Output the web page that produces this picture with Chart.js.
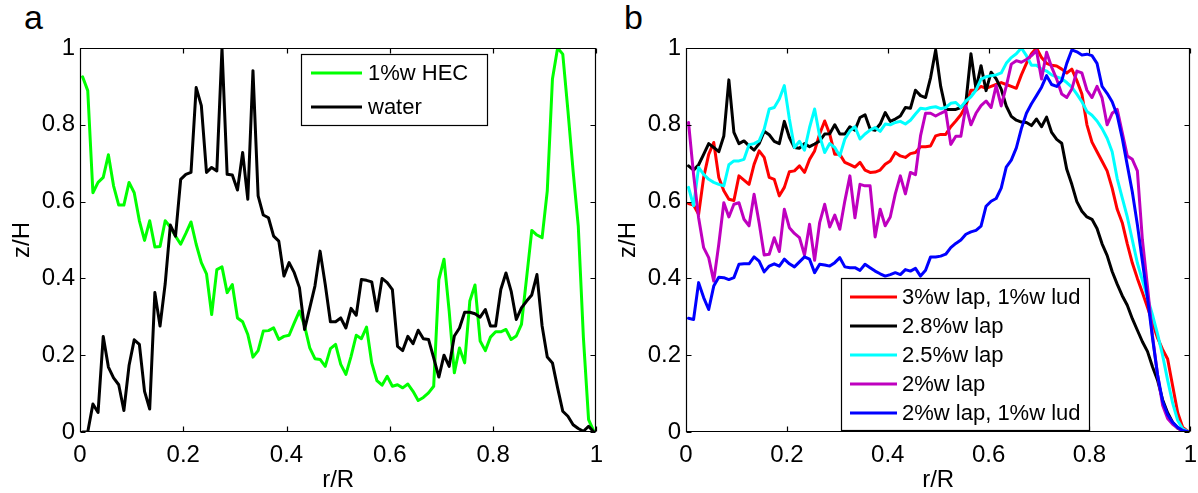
<!DOCTYPE html>
<html><head><meta charset="utf-8">
<script src="https://cdn.jsdelivr.net/npm/chart.js@4.4.1/dist/chart.umd.min.js"></script>
<style>
html,body{margin:0;padding:0;background:#fff;}
body{width:1198px;height:493px;position:relative;overflow:hidden;font-family:"Liberation Sans",Arial,sans-serif;}
canvas{position:absolute;top:0;}
#ca{left:0;}
#cb{left:606px;}
.lab{position:absolute;font-size:34px;line-height:34px;color:#000;}
</style></head>
<body>
<div class="lab" style="left:24px;top:0px;">a</div>
<div class="lab" style="left:624px;top:0px;">b</div>
<canvas id="ca" width="612" height="493"></canvas>
<canvas id="cb" width="600" height="493"></canvas>
<script>
// ---- data ----
const rR = [0.005,0.015,0.025,0.035,0.045,0.055,0.065,0.075,0.085,0.095,
0.105,0.115,0.125,0.135,0.145,0.155,0.165,0.175,0.185,0.195,
0.205,0.215,0.225,0.235,0.245,0.255,0.265,0.275,0.285,0.295,
0.305,0.315,0.325,0.335,0.345,0.355,0.365,0.375,0.385,0.395,
0.405,0.415,0.425,0.435,0.445,0.455,0.465,0.475,0.485,0.495,
0.505,0.515,0.525,0.535,0.545,0.555,0.565,0.575,0.585,0.595,
0.605,0.615,0.625,0.635,0.645,0.655,0.665,0.675,0.685,0.695,
0.705,0.715,0.725,0.735,0.745,0.755,0.765,0.775,0.785,0.795,
0.805,0.815,0.825,0.835,0.845,0.855,0.865,0.875,0.885,0.895,
0.905,0.915,0.925,0.935,0.945,0.955,0.965,0.975,0.985,0.995];

// panel a
const hec1 = [0.925,0.889,0.623,0.650,0.663,0.722,0.641,0.591,0.591,0.650,
0.623,0.550,0.499,0.550,0.482,0.483,0.550,0.534,0.510,0.489,
0.517,0.547,0.489,0.441,0.412,0.306,0.423,0.430,0.363,0.384,
0.297,0.287,0.254,0.195,0.212,0.263,0.264,0.271,0.241,0.249,
0.252,0.284,0.315,0.276,0.219,0.191,0.189,0.171,0.217,0.228,
0.176,0.150,0.197,0.252,0.243,0.273,0.180,0.134,0.122,0.145,
0.119,0.123,0.115,0.125,0.106,0.082,0.090,0.102,0.119,0.397,
0.450,0.315,0.154,0.219,0.180,0.341,0.383,0.237,0.212,0.247,
0.261,0.261,0.267,0.241,0.250,0.280,0.402,0.525,0.513,0.506,
0.628,0.919,1.000,0.984,0.837,0.680,0.537,0.245,0.032,0.002];
const water = [0,0,0.073,0.051,0.249,0.169,0.141,0.123,0.056,0.173,
0.240,0.228,0.106,0.060,0.363,0.276,0.386,0.539,0.510,0.658,
0.671,0.676,0.897,0.850,0.676,0.689,0.680,1.000,0.671,0.669,
0.630,0.728,0.606,0.941,0.615,0.565,0.558,0.510,0.497,0.406,
0.441,0.415,0.376,0.267,0.323,0.380,0.471,0.384,0.287,0.287,
0.297,0.271,0.322,0.304,0.397,0.395,0.391,0.315,0.400,0.389,
0.371,0.223,0.212,0.249,0.230,0.265,0.243,0.241,0.193,0.143,
0.200,0.171,0.250,0.271,0.312,0.312,0.308,0.299,0.319,0.276,
0.276,0.371,0.414,0.367,0.293,0.323,0.341,0.357,0.410,0.276,
0.195,0.180,0.115,0.054,0.041,0.019,0.009,0.002,0.015,0];

// panel b
const lap3lud1 = [0.595,0.591,0.567,0.663,0.723,0.754,0.663,0.628,0.606,0.603,
0.667,0.656,0.645,0.697,0.732,0.715,0.663,0.658,0.615,0.637,
0.678,0.680,0.693,0.676,0.710,0.732,0.776,0.810,0.776,0.723,
0.723,0.702,0.696,0.690,0.702,0.682,0.676,0.677,0.682,0.697,
0.706,0.728,0.719,0.715,0.725,0.728,0.743,0.743,0.745,0.771,
0.775,0.775,0.795,0.810,0.826,0.850,0.890,0.890,0.900,0.895,
0.900,0.905,0.910,0.905,0.900,0.895,0.930,0.960,0.985,1.000,
0.975,0.960,0.955,0.953,0.945,0.935,0.945,0.915,0.880,0.800,
0.755,0.730,0.705,0.680,0.635,0.580,0.545,0.490,0.440,0.400,
0.363,0.325,0.285,0.245,0.215,0.190,0.120,0.050,0.012,0.002];
const lap28 = [0.693,0.682,0.696,0.723,0.751,0.741,0.730,0.771,0.917,0.780,
0.751,0.758,0.745,0.734,0.751,0.783,0.774,0.757,0.751,0.809,
0.767,0.741,0.739,0.751,0.743,0.750,0.758,0.776,0.777,0.800,
0.776,0.776,0.795,0.786,0.819,0.826,0.789,0.786,0.802,0.832,
0.809,0.815,0.823,0.845,0.843,0.890,0.876,0.871,0.923,0.995,
0.900,0.840,0.840,0.840,0.845,0.858,0.985,0.893,0.954,0.889,
0.937,0.920,0.893,0.849,0.822,0.812,0.807,0.806,0.798,0.815,
0.795,0.820,0.780,0.762,0.752,0.684,0.645,0.600,0.575,0.560,
0.554,0.530,0.490,0.460,0.418,0.385,0.355,0.330,0.295,0.265,
0.235,0.210,0.170,0.135,0.084,0.050,0.025,0.010,0.003,0];
const lap25 = [0.637,0.589,0.689,0.671,0.658,0.650,0.645,0.641,0.696,0.706,
0.706,0.710,0.748,0.751,0.758,0.789,0.841,0.845,0.867,0.902,
0.815,0.741,0.757,0.734,0.793,0.841,0.771,0.728,0.751,0.741,
0.719,0.763,0.784,0.795,0.763,0.776,0.786,0.793,0.783,0.802,
0.800,0.806,0.809,0.802,0.812,0.828,0.843,0.841,0.845,0.847,
0.842,0.845,0.856,0.858,0.845,0.862,0.873,0.890,0.919,0.925,
0.928,0.930,0.935,0.960,0.975,0.985,1.000,0.980,0.955,0.955,
0.945,0.940,0.930,0.925,0.920,0.910,0.898,0.880,0.860,0.835,
0.825,0.810,0.790,0.765,0.730,0.660,0.610,0.560,0.500,0.440,
0.395,0.350,0.305,0.255,0.200,0.135,0.075,0.030,0.008,0.001];
const lap2 = [0.806,0.671,0.558,0.480,0.454,0.393,0.489,0.597,0.560,0.593,
0.597,0.554,0.537,0.619,0.545,0.461,0.463,0.506,0.470,0.580,
0.532,0.517,0.506,0.461,0.541,0.447,0.545,0.593,0.534,0.565,
0.528,0.602,0.667,0.558,0.645,0.641,0.641,0.508,0.580,0.537,
0.560,0.620,0.667,0.620,0.676,0.670,0.771,0.830,0.830,0.823,
0.830,0.836,0.749,0.770,0.770,0.849,0.800,0.830,0.850,0.862,
0.845,0.902,0.849,0.900,0.958,0.967,0.963,0.970,0.980,0.993,
0.919,0.989,0.950,0.919,0.880,0.871,0.893,0.940,0.935,0.890,
0.871,0.900,0.870,0.800,0.830,0.840,0.780,0.719,0.710,0.680,
0.500,0.380,0.250,0.150,0.070,0.035,0.020,0.010,0.003,0];
const lap2lud1 = [0.296,0.293,0.389,0.350,0.319,0.380,0.403,0.402,0.397,0.402,
0.437,0.438,0.438,0.456,0.445,0.417,0.432,0.438,0.432,0.450,
0.438,0.430,0.443,0.456,0.450,0.415,0.437,0.435,0.432,0.441,
0.454,0.430,0.428,0.428,0.421,0.437,0.428,0.419,0.412,0.406,
0.410,0.415,0.410,0.423,0.419,0.426,0.406,0.421,0.456,0.456,
0.458,0.463,0.480,0.491,0.500,0.515,0.521,0.525,0.536,0.588,
0.601,0.608,0.635,0.690,0.708,0.740,0.790,0.830,0.855,0.876,
0.898,0.928,0.905,0.900,0.915,0.960,0.995,0.990,0.982,0.984,
0.980,0.960,0.900,0.882,0.860,0.825,0.765,0.695,0.625,0.540,
0.444,0.350,0.245,0.149,0.080,0.045,0.025,0.012,0.004,0.001];

const tickValues = [0,0.2,0.4,0.6,0.8,1];
const tickLabels = ['0','0.2','0.4','0.6','0.8','1'];
const labelsA = ['1%w HEC','water'];
const labelsB = ['3%w lap, 1%w lud','2.8%w lap','2.5%w lap','2%w lap','2%w lap, 1%w lud'];

// ---- helpers ----
const FAM = '"Liberation Sans", Arial, Helvetica, sans-serif';
function pts(arr){ return rR.map((x,i)=>({x:x, y:arr[i]})); }
function fmt(v){
  const k = tickValues.findIndex(t=>Math.abs(t-v)<1e-6);
  return k>=0 ? tickLabels[k] : '';
}

const framePlugin = {
  id:'frame',
  afterDatasetsDraw(chart){
    const {ctx, chartArea:a, scales} = chart;
    ctx.save();
    ctx.strokeStyle='#000'; ctx.lineWidth=1.2;
    const L=5;
    const l=Math.round(a.left)+0.5, r=Math.round(a.right)-0.5, t=Math.round(a.top)+0.5, b=Math.round(a.bottom)-0.5;
    ctx.beginPath();
    ctx.rect(l,t,r-l,b-t);
    scales.x.ticks.forEach(tk=>{
      const p=Math.round(scales.x.getPixelForValue(tk.value))+0.5;
      ctx.moveTo(p,b); ctx.lineTo(p,b-L);
      ctx.moveTo(p,t); ctx.lineTo(p,t+L);
    });
    scales.y.ticks.forEach(tk=>{
      const p=Math.round(scales.y.getPixelForValue(tk.value))+0.5;
      ctx.moveTo(l,p); ctx.lineTo(l+L,p);
      ctx.moveTo(r,p); ctx.lineTo(r-L,p);
    });
    ctx.stroke();
    ctx.restore();
  },
  afterDraw(chart){
    const o = chart.options.plugins.boxLegend;
    if(!o) return;
    const {ctx} = chart;
    ctx.save();
    const [x0,y0,x1,y1] = o.box;
    ctx.fillStyle='#fff';
    ctx.fillRect(x0,y0,x1-x0,y1-y0);
    ctx.strokeStyle='#000'; ctx.lineWidth=1.2;
    ctx.strokeRect(x0+0.5,y0+0.5,x1-x0-1,y1-y0-1);
    ctx.font = o.fontSize+'px '+FAM;
    ctx.textBaseline='middle'; ctx.textAlign='left';
    chart.data.datasets.forEach((ds,i)=>{
      const y = o.rows[i];
      ctx.strokeStyle = ds.borderColor; ctx.lineWidth = 3;
      ctx.beginPath(); ctx.moveTo(o.lineX[0],y); ctx.lineTo(o.lineX[1],y); ctx.stroke();
      ctx.fillStyle='#000';
      ctx.fillText(ds.label, o.textX, y+1);
    });
    ctx.restore();
  }
};

function makeChart(id, datasets, padRight, legend){
  return new Chart(document.getElementById(id), {
    type:'line',
    data:{datasets},
    plugins:[framePlugin],
    options:{
      responsive:false, animation:false, events:[],
      layout:{padding:{left:0, top:48, right:padRight, bottom:0}},
      elements:{point:{radius:0}, line:{tension:0, borderWidth:3, borderJoinStyle:'round', borderCapStyle:'round'}},
      plugins:{legend:{display:false}, tooltip:{enabled:false}, boxLegend:legend},
      scales:{
        x:{type:'linear', min:0, max:1,
          afterFit:s=>{s.height=61;},
          afterBuildTicks:s=>{s.ticks = tickValues.map(v=>({value:v}));},
          grid:{display:false, drawTicks:false}, border:{display:false},
          ticks:{padding:9, color:'#000', font:{size:24, family:FAM}, maxRotation:0, autoSkip:false, callback:fmt},
          title:{display:true, text:'r/R', color:'#000', font:{size:24, family:FAM, lineHeight:1}, padding:{top:0,bottom:1}}
        },
        y:{type:'linear', min:0, max:1,
          afterFit:s=>{s.width=80;},
          afterBuildTicks:s=>{s.ticks = tickValues.map(v=>({value:v}));},
          grid:{display:false, drawTicks:false}, border:{display:false},
          ticks:{padding:5, color:'#000', font:{size:24, family:FAM}, autoSkip:false, callback:fmt},
          title:{display:true, text:'z/H', color:'#000', font:{size:24, family:FAM, lineHeight:1}, padding:{top:10,bottom:0}}
        }
      }
    }
  });
}

makeChart('ca', [
  {label:labelsA[0], data:pts(hec1), borderColor:'#00ff00', order:2},
  {label:labelsA[1], data:pts(water), borderColor:'#000000', order:1}
], 11, {box:[301,54,488,126], rows:[73,107], lineX:[311,362], textX:368, fontSize:22});

makeChart('cb', [
  {label:labelsB[0], data:pts(lap3lud1), borderColor:'#ff0000', order:5},
  {label:labelsB[1], data:pts(lap28), borderColor:'#000000', order:4},
  {label:labelsB[2], data:pts(lap25), borderColor:'#00ffff', order:3},
  {label:labelsB[3], data:pts(lap2), borderColor:'#bf00bf', order:2},
  {label:labelsB[4], data:pts(lap2lud1), borderColor:'#0000ff', order:1}
], 13, {box:[235,278,484,431], rows:[297,326,355,384,413], lineX:[244,291], textX:296, fontSize:22});
</script>
</body></html>
